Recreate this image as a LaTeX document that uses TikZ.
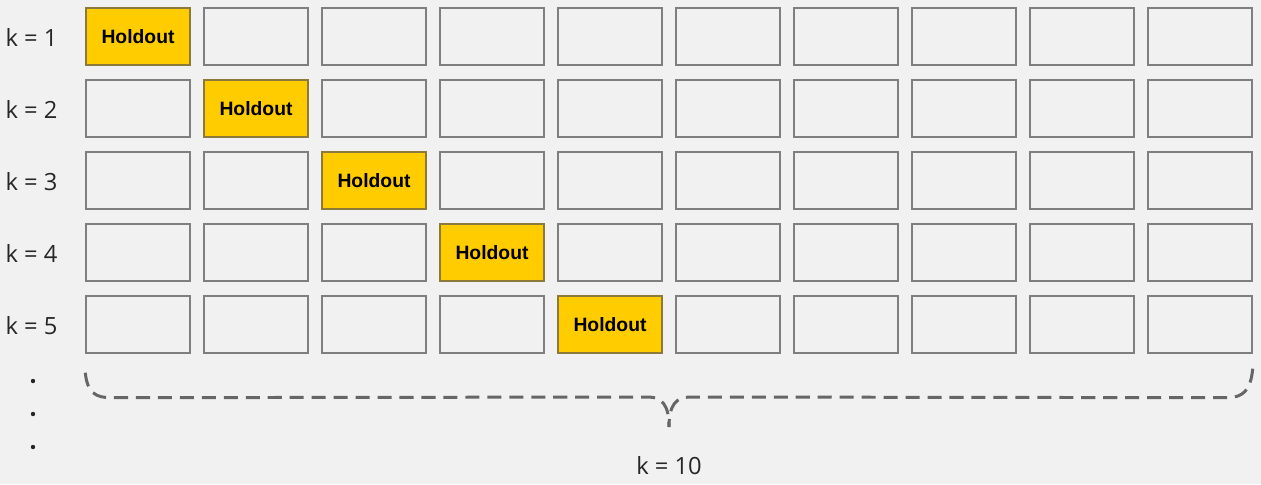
\documentclass[tikz,border=0pt]{standalone}
\usepackage{fontspec}
\setmainfont{Open Sans}
\newfontfamily\holdfont{Liberation Sans}
\usetikzlibrary{calc}
\definecolor{bgcol}{HTML}{F1F1F1}
\definecolor{edgecol}{HTML}{7F7F7F}
\definecolor{holdcol}{HTML}{FFCC00}
\definecolor{holdedge}{HTML}{8C7A3C}
\definecolor{bracecol}{HTML}{666666}
\tikzset{
	cell/.style={draw=edgecol, line width=0.8pt, fill=bgcol, minimum width=2.08cm, minimum height=1.14cm, inner sep=0pt},
	hold/.style={cell, draw=holdedge, fill=holdcol, font=\holdfont\bfseries\fontsize{11}{13}\selectfont},
	klabel/.style={font=\fontsize{13.5}{16}\selectfont, text=black!85, inner sep=0pt},
	bracepath/.style={draw=bracecol, line width=1.7pt, dash pattern=on 8pt off 4.5pt}
}

\begin{document}
\begin{tikzpicture}[x=0.02cm, y=-0.02cm]
		%%%%% START %%%%%
		
		\fill[bgcol] (0, 0) rectangle (1261, 484);
		\useasboundingbox (0, 0) rectangle (1261, 484);
		
		\foreach \r in {1,...,5} {
			\node[klabel] (k-\r) at (31.5, {37.5+72*(\r-1)}) {k = \r};
			\foreach \c in {1,...,10} {
				\ifnum\c=\r
					\node[hold] (c-\r-\c) at ({138+118*(\c-1)}, {36.5+72*(\r-1)}) {Holdout};
				\else
					\node[cell] (c-\r-\c) at ({138+118*(\c-1)}, {36.5+72*(\r-1)}) {};
				\fi
			}
		}
		
		\foreach \y in {381, 414, 447}
			\fill[black!85] (33, \y) circle (2.2);
		
		\coordinate (bl) at ($(c-5-1.south west)+(0, 19)$);
		\coordinate (br) at ($(c-5-10.south east)+(0, 15)$);
		\coordinate (tip) at (669, 427);
		\draw[bracepath] (bl) .. controls ($(bl)+(2, 20)$) and ($(bl)+(10, 25)$) .. ($(bl)+(26, 25)$)
			-- (648, 397) .. controls (662, 397) and (669, 405) .. (tip);
		\draw[bracepath] (br) .. controls ($(br)+(-2, 22)$) and ($(br)+(-10, 29)$) .. ($(br)+(-26, 29)$)
			-- (690, 397) .. controls (676, 397) and (669, 405) .. (tip);
		
		\node[klabel] (total) at (669, 466) {k = 10};
		
		%%%%% END %%%%%
	\end{tikzpicture}
\end{document}
